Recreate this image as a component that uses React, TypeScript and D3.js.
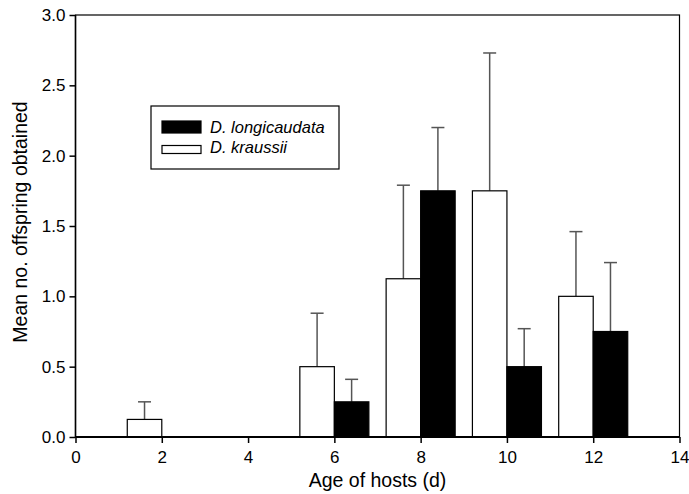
import React, { useEffect, useRef } from 'react';
import * as d3 from 'd3';

// ages (d) at which hosts were offered
const ages = [2, 4, 6, 8, 10, 12];
// D. kraussii: mean and mean + SE
const kraussiiMean = [0.125, 0, 0.5, 1.125, 1.75, 1.0];
const kraussiiTop = [0.25, 0, 0.88, 1.79, 2.73, 1.46];
// D. longicaudata: mean and mean + SE
const longiMean = [0, 0, 0.25, 1.75, 0.5, 0.75];
const longiTop = [0, 0, 0.41, 2.2, 0.77, 1.24];

const xTicks = [0, 2, 4, 6, 8, 10, 12, 14];
const yTicks = [0, 0.5, 1.0, 1.5, 2.0, 2.5, 3.0];

const App = () => {
  const svgRef = useRef<SVGSVGElement>(null);

  useEffect(() => {
    const svg = d3.select(svgRef.current);
    svg.selectAll('*').remove();

    const margin = { top: 15, right: 9.5, bottom: 57, left: 75.5 };
    const width = 689 - margin.left - margin.right;
    const height = 494 - margin.top - margin.bottom;
    const font = 'Liberation Sans, Arial, sans-serif';

    const x = d3.scaleLinear().domain([0, 14]).range([0, width]);
    const y = d3.scaleLinear().domain([0, 3]).range([height, 0]);

    const g = svg.append('g').attr('transform', `translate(${margin.left},${margin.top})`);

    const barW = 0.8;
    const series = [
      { mean: kraussiiMean, top: kraussiiTop, fill: '#fff', off: -barW },
      { mean: longiMean, top: longiTop, fill: '#000', off: 0 },
    ];

    series.forEach(s => {
      const rows = ages.map((a, i) => ({ a, m: s.mean[i], t: s.top[i] })).filter(d => d.m > 0);

      // error bars (upper only)
      const eb = g.append('g').attr('stroke', '#555').attr('stroke-width', 1.5);
      rows.forEach(d => {
        const cx = x(d.a + s.off + barW / 2);
        eb.append('line').attr('x1', cx).attr('x2', cx).attr('y1', y(d.m)).attr('y2', y(d.t));
        eb.append('line').attr('x1', cx - 6.5).attr('x2', cx + 6.5).attr('y1', y(d.t)).attr('y2', y(d.t));
      });

      g.append('g').selectAll('rect')
        .data(rows)
        .enter()
        .append('rect')
        .attr('x', d => x(d.a + s.off))
        .attr('y', d => y(d.m))
        .attr('width', x(barW) - x(0))
        .attr('height', d => y(0) - y(d.m))
        .attr('fill', s.fill)
        .attr('stroke', '#000')
        .attr('stroke-width', 1.2);
    });

    // frame
    g.append('rect')
      .attr('width', width).attr('height', height)
      .attr('fill', 'none').attr('stroke', '#000').attr('stroke-width', 1.2);
    g.append('line').attr('x1', 0).attr('x2', width).attr('y1', height).attr('y2', height)
      .attr('stroke', '#000').attr('stroke-width', 2);
    g.append('line').attr('x1', 0).attr('x2', 0).attr('y1', 0).attr('y2', height)
      .attr('stroke', '#000').attr('stroke-width', 1.5);

    // x axis
    const xa = g.append('g')
      .attr('transform', `translate(0,${height})`)
      .call(d3.axisBottom(x).tickValues(xTicks).tickSize(6).tickPadding(8).tickFormat(d3.format('d')));
    xa.select('.domain').remove();
    xa.selectAll('line').attr('stroke-width', 1.5);
    xa.selectAll('text').attr('font-family', font).attr('font-size', 17).attr('fill', '#000');

    // y axis
    const ya = g.append('g')
      .call(d3.axisLeft(y).tickValues(yTicks).tickSize(6).tickPadding(4).tickFormat(d3.format('.1f')));
    ya.select('.domain').remove();
    ya.selectAll('line').attr('stroke-width', 1.5);
    ya.selectAll('text').attr('font-family', font).attr('font-size', 17).attr('fill', '#000');

    // axis titles
    svg.append('text')
      .attr('x', margin.left + width / 2).attr('y', 487)
      .attr('text-anchor', 'middle').attr('font-family', font).attr('font-size', 19.5)
      .text('Age of hosts (d)');
    svg.append('text')
      .attr('transform', `translate(27,${margin.top + height / 2 - 4}) rotate(-90)`)
      .attr('text-anchor', 'middle').attr('font-family', font).attr('font-size', 19.5)
      .text('Mean no. offspring obtained');

    // legend
    const lg = svg.append('g').attr('transform', 'translate(151,106)');
    lg.append('rect').attr('width', 188).attr('height', 63)
      .attr('fill', '#fff').attr('stroke', '#000').attr('stroke-width', 1.2);
    const items = [
      { label: 'D. longicaudata', fill: '#000', sy: 15, sh: 12, ty: 26.5 },
      { label: 'D. kraussii', fill: '#fff', sy: 39.5, sh: 8, ty: 47 },
    ];
    items.forEach(it => {
      lg.append('rect').attr('x', 11).attr('y', it.sy).attr('width', 39).attr('height', it.sh)
        .attr('fill', it.fill).attr('stroke', '#000').attr('stroke-width', 1.2);
      lg.append('text').attr('x', 59).attr('y', it.ty)
        .attr('font-family', font).attr('font-size', 16.5).attr('font-style', 'italic')
        .text(it.label);
    });
  }, []);

  return (
    <div id="bar-chart">
      <svg ref={svgRef} width="689" height="494" style={{ position: 'absolute', left: 0, top: 0 }} />
    </div>
  );
};

export default App;
